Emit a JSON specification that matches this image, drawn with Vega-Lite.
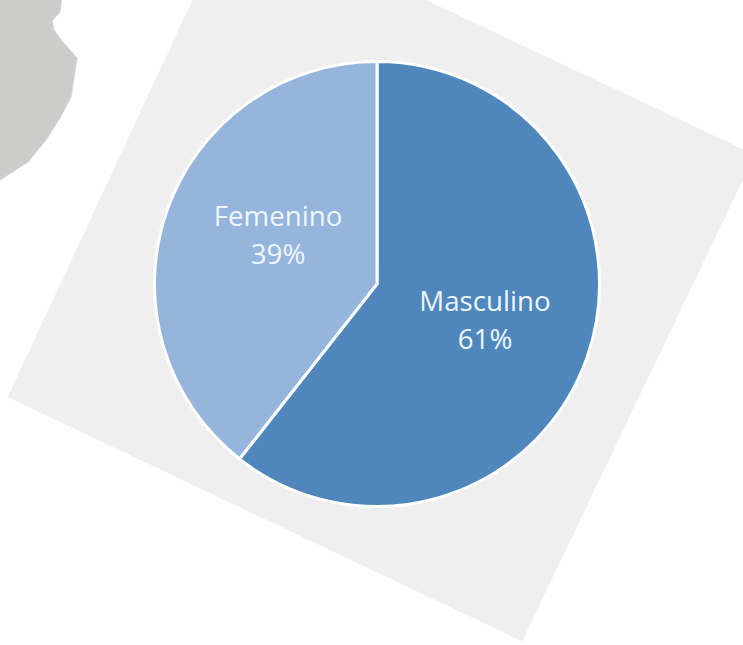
{"$schema":"https://vega.github.io/schema/vega-lite/v6.json","width":743,"height":645,"autosize":{"type":"none"},"padding":0,"background":"white","view":{"stroke":null},"config":{"style":{"cell":{"stroke":null}}},
"layer":[
{"data":{"values":[
{"shape":"fondo","i":1,"px":194,"py":-3},{"shape":"fondo","i":2,"px":419,"py":-3},{"shape":"fondo","i":3,"px":746,"py":151},{"shape":"fondo","i":4,"px":746,"py":173},{"shape":"fondo","i":5,"px":522,"py":641},{"shape":"fondo","i":6,"px":8,"py":397},{"shape":"fondo","i":7,"px":194,"py":-3}]},
"mark":{"type":"line","fill":"#efefef","stroke":"#efefef","strokeWidth":0.5},
"encoding":{"x":{"field":"px","type":"quantitative","scale":{"domain":[0,743],"nice":false,"zero":false},"axis":null},"y":{"field":"py","type":"quantitative","scale":{"domain":[645,0],"nice":false,"zero":false},"axis":null},"order":{"field":"i","type":"quantitative"}}},
{"data":{"values":[
{"i":1,"px":-3,"py":-3},{"i":2,"px":62,"py":-3},{"i":3,"px":60,"py":12},{"i":4,"px":52,"py":21},{"i":5,"px":54,"py":30},{"i":6,"px":62,"py":41},{"i":7,"px":77,"py":58},{"i":8,"px":74,"py":78},{"i":9,"px":71,"py":97},{"i":10,"px":60,"py":118},{"i":11,"px":46,"py":140},{"i":12,"px":28,"py":162},{"i":13,"px":-3,"py":182},{"i":14,"px":-3,"py":-3}]},
"mark":{"type":"line","fill":"#cccdcb","stroke":"#d4d5d3","strokeWidth":1},
"encoding":{"x":{"field":"px","type":"quantitative","scale":{"domain":[0,743],"nice":false,"zero":false},"axis":null},"y":{"field":"py","type":"quantitative","scale":{"domain":[645,0],"nice":false,"zero":false},"axis":null},"order":{"field":"i","type":"quantitative"}}},
{"data":{"values":[{"sexo":"Masculino","pct":60.6,"orden":1,"cx":377,"cy":284},{"sexo":"Femenino","pct":39.4,"orden":2,"cx":377,"cy":284}]},
"mark":{"type":"arc","outerRadius":222.5,"innerRadius":0,"stroke":"white","strokeWidth":3},
"encoding":{"theta":{"field":"pct","type":"quantitative","stack":true,"scale":{"domain":[0,100],"range":[0,6.2832]}},"order":{"field":"orden","type":"quantitative"},"color":{"field":"sexo","type":"nominal","scale":{"domain":["Masculino","Femenino"],"range":["#4f87bc","#95b5dd"]},"legend":null},
"x":{"field":"cx","type":"quantitative","scale":{"domain":[0,743],"nice":false,"zero":false},"axis":null},"y":{"field":"cy","type":"quantitative","scale":{"domain":[645,0],"nice":false,"zero":false},"axis":null}}},
{"data":{"values":[{"t":"Femenino","px":278,"py":218},{"t":"39%","px":278,"py":256},{"t":"Masculino","px":485,"py":303},{"t":"61%","px":485,"py":341}]},
"mark":{"type":"text","font":"Open Sans","fontSize":27.7,"color":"#eef6ff","align":"center","baseline":"middle"},
"encoding":{"text":{"field":"t","type":"nominal"},"x":{"field":"px","type":"quantitative","scale":{"domain":[0,743],"nice":false,"zero":false},"axis":null},"y":{"field":"py","type":"quantitative","scale":{"domain":[645,0],"nice":false,"zero":false},"axis":null}}}
]}
